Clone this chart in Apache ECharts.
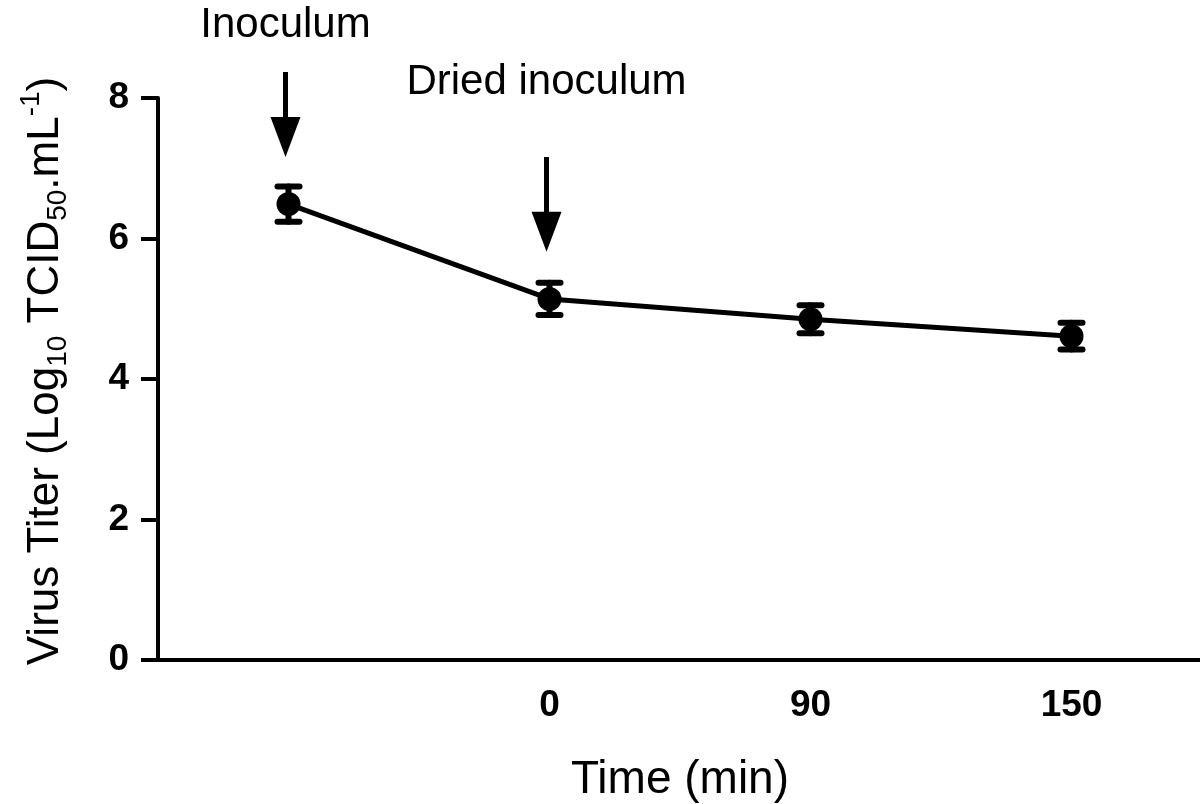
<!DOCTYPE html>
<html>
<head>
<meta charset="utf-8">
<script src="https://cdn.jsdelivr.net/npm/echarts@6/dist/echarts.min.js"></script>
<style>html,body{margin:0;padding:0;background:#fff}#c{width:1200px;height:804px}</style>
</head>
<body>
<div id="c"></div>
<script>
// ---- data ----
var categories = ['', '0', '90', '150'];
var titerMean = [6.49, 5.14, 4.85, 4.61];
var titerErr = [0.25, 0.23, 0.20, 0.19];
var yTicks = [0, 2, 4, 6, 8];
var annotLabels = ['Inoculum', 'Dried inoculum'];
var annotCategory = [0, 1];
var annotTextY = [9.03, 8.22];
var arrowTop = [8.37, 7.16];
var arrowTip = [7.16, 5.81];

var FONT = '"Liberation Sans", Arial, Helvetica, sans-serif';

var errData = categories.map(function (c, i) {
  return [i, titerMean[i] - titerErr[i], titerMean[i] + titerErr[i]];
});
var annotData = annotLabels.map(function (l, i) {
  return [annotCategory[i], arrowTop[i], arrowTip[i], annotTextY[i]];
});

var chart = echarts.init(document.getElementById('c'), null, {renderer: 'canvas'});
chart.setOption({
  backgroundColor: '#fff',
  animation: false,
  grid: {left: 158, width: 1044, top: 98, bottom: 144, containLabel: false, outerBoundsMode: 'none'},
  xAxis: {
    type: 'category',
    data: categories,
    boundaryGap: true,
    name: 'Time (min)',
    nameLocation: 'middle',
    nameGap: 97,
    nameTextStyle: {fontFamily: FONT, fontSize: 46, color: '#000'},
    axisLine: {lineStyle: {color: '#000', width: 4}},
    axisTick: {alignWithLabel: true, length: 24, lineStyle: {color: '#000', width: 4},
      interval: function (i) { return i !== 0; }},
    axisLabel: {fontFamily: FONT, fontSize: 37, fontWeight: 'bold', color: '#000', margin: 27},
    splitLine: {show: false}
  },
  yAxis: {
    type: 'value',
    min: yTicks[0],
    max: yTicks[yTicks.length - 1],
    interval: yTicks[1] - yTicks[0],
    name: '{a|Virus Titer (Log}{s|10}{a| TCID}{s|50}{a|.mL}{p|-1}{a|)}',
    nameLocation: 'middle',
    nameGap: 90,
    nameRotate: 90,
    nameTextStyle: {
      fontFamily: FONT, fontSize: 44, color: '#000',
      padding: [0, 0, 0, 16],
      rich: {
        a: {fontFamily: FONT, fontSize: 44, color: '#000', lineHeight: 51, verticalAlign: 'bottom'},
        s: {fontFamily: FONT, fontSize: 28, color: '#000', lineHeight: 28, verticalAlign: 'bottom', padding: [0, 0, -4, 0]},
        p: {fontFamily: FONT, fontSize: 28, color: '#000', lineHeight: 28, verticalAlign: 'top'}
      }
    },
    axisLine: {show: true, lineStyle: {color: '#000', width: 4}},
    axisTick: {show: true, length: 17, lineStyle: {color: '#000', width: 4}},
    axisLabel: {fontFamily: FONT, fontSize: 37, fontWeight: 'bold', color: '#000', margin: 29},
    splitLine: {show: false}
  },
  series: [
    {
      type: 'custom',
      name: 'err',
      data: errData,
      z: 3,
      renderItem: function (params, api) {
        var x = api.value(0);
        var lo = api.coord([x, api.value(1)]);
        var hi = api.coord([x, api.value(2)]);
        var hw = 11;
        var st = {stroke: '#000', lineWidth: 6, lineCap: 'round'};
        return {type: 'group', children: [
          {type: 'line', shape: {x1: lo[0], y1: lo[1], x2: hi[0], y2: hi[1]}, style: st},
          {type: 'line', shape: {x1: lo[0] - hw, y1: lo[1], x2: lo[0] + hw, y2: lo[1]}, style: st},
          {type: 'line', shape: {x1: hi[0] - hw, y1: hi[1], x2: hi[0] + hw, y2: hi[1]}, style: st}
        ]};
      }
    },
    {
      type: 'line',
      name: 'titer',
      data: titerMean,
      z: 4,
      symbol: 'circle',
      symbolSize: 24,
      lineStyle: {color: '#000', width: 5},
      itemStyle: {color: '#000'}
    },
    {
      type: 'custom',
      name: 'annot',
      data: annotData,
      z: 5,
      clip: false,
      renderItem: function (params, api) {
        var i = params.dataIndex;
        var x = api.value(0);
        var top = api.coord([x, api.value(1)]);
        var tip = api.coord([x, api.value(2)]);
        var txt = api.coord([x, api.value(3)]);
        var headH = 40, headW = 15;
        var xc = top[0] - 3;
        return {type: 'group', children: [
          {type: 'line', shape: {x1: xc, y1: top[1], x2: xc, y2: tip[1] - headH + 2},
            style: {stroke: '#000', lineWidth: 5}},
          {type: 'polygon', shape: {points: [[xc - headW, tip[1] - headH], [xc + headW, tip[1] - headH], [xc, tip[1]]]},
            style: {fill: '#000'}},
          {type: 'text', x: xc, y: txt[1],
            style: {text: annotLabels[i], fontFamily: FONT, fontSize: 42, fill: '#000',
              align: 'center', verticalAlign: 'middle'}}
        ]};
      }
    }
  ]
});
</script>
</body>
</html>
